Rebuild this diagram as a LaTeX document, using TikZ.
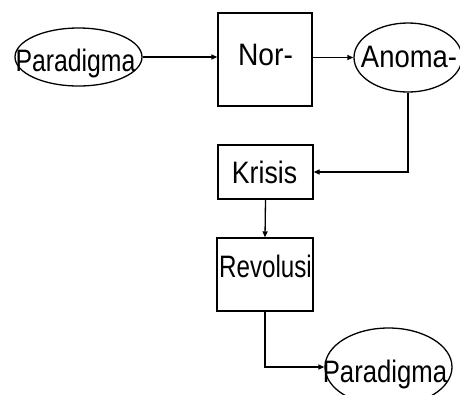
\documentclass[tikz,border=0pt]{standalone}
\usepackage{fontspec}
\setmainfont{Liberation Sans}
\usetikzlibrary{shapes.geometric,arrows.meta}
\newcommand{\sx}[2]{\scalebox{#1}[1]{#2}}
\tikzset{
  conn/.style={line width=1.3bp, draw=black},
  arr/.style={conn, -{Triangle[length=6bp,width=5bp]}},
  boxnode/.style={draw=black, line width=1.3bp, rectangle, inner sep=0pt},
  ellnode/.style={draw=black, line width=1.3bp, ellipse, inner sep=0pt},
  lbl/.style={inner sep=0pt, anchor=base, font=\fontsize{31bp}{37bp}\selectfont}
}
\begin{document}
\begin{tikzpicture}[x=1bp,y=-1bp]
\useasboundingbox (0,0) rectangle (460,394);
\clip (0,0) rectangle (460,394);
\fill[white] (0,0) rectangle (460,394);
% shapes
\node[ellnode, minimum width=127bp, minimum height=58bp] (p1) at (78.5,57) {};
\node[boxnode, minimum width=94bp, minimum height=93bp] (nor) at (265,59.5) {};
\node[ellnode, minimum width=108bp, minimum height=69bp] (anoma) at (408,57.5) {};
\node[boxnode, minimum width=95bp, minimum height=54bp] (krisis) at (265.5,172) {};
\node[boxnode, minimum width=96bp, minimum height=73bp] (revolusi) at (265,274.5) {};
\node[ellnode, minimum width=127bp, minimum height=78bp] (p2) at (388.5,367) {};
% texts
\node[lbl] (tp1) at (75.5,71.5) {\sx{0.80}{Paradigma}};
\node[lbl] (tnor) at (265.5,65.5) {\sx{0.91}{Nor-}};
\node[lbl] (tanoma) at (409,67) {\sx{0.885}{Anoma-}};
\node[lbl] (tkrisis) at (264.5,183) {\sx{0.86}{Krisis}};
\node[lbl] (trev) at (265.5,277) {\sx{0.78}{Revolusi}};
\node[lbl] (tp2) at (385,382) {\sx{0.83}{Paradigma}};
% connectors
\draw[arr] (p1.east) -- (p1.east -| nor.west);
\draw[arr] (anoma.west -| nor.east) -- (anoma.west);
\draw[arr] (anoma.south) |- (krisis.east);
\draw[arr] (krisis.south) -- (revolusi.north);
\draw[arr] (revolusi.south) |- (p2.west);
\end{tikzpicture}
\end{document}
